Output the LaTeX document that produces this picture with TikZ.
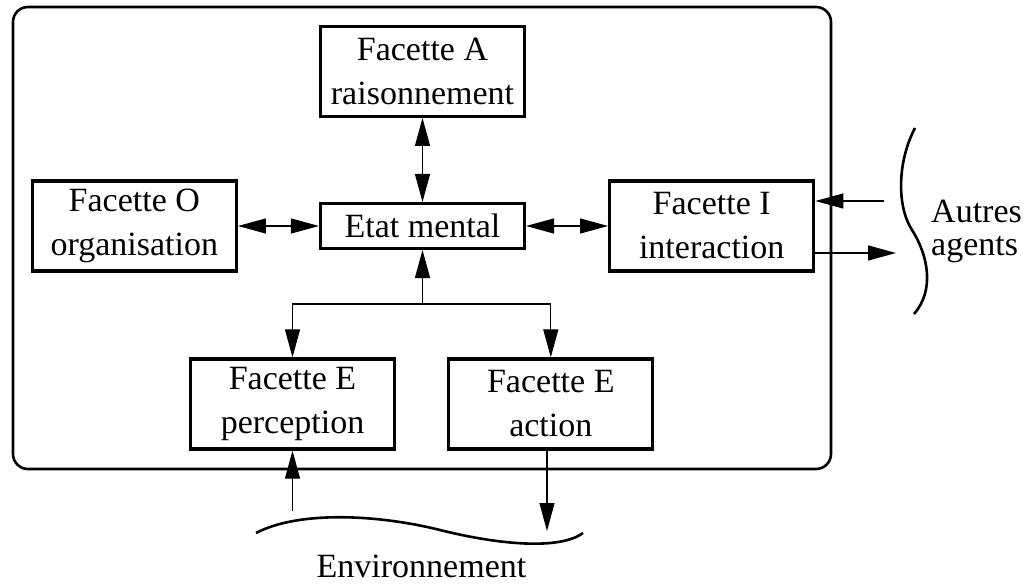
\documentclass[tikz,border=0pt]{standalone}
\usepackage{fontspec}
\setmainfont{Liberation Serif}
\usetikzlibrary{arrows.meta,positioning}

\begin{document}
\begin{tikzpicture}[
  x=1pt,y=-1pt,
  every node/.style={font=\fontsize{34pt}{44pt}\selectfont,align=center},
  facet/.style={draw,line width=3.3pt,minimum width=204pt,minimum height=90pt,inner sep=0pt},
  mind/.style={draw,line width=2.6pt,minimum width=204.5pt,minimum height=45.5pt,inner sep=0pt},
  arr/.style={-{Triangle[length=28pt,width=15pt]},line width=1.2pt},
  dbl/.style={{Triangle[length=28pt,width=15pt]}-{Triangle[length=28pt,width=15pt]},line width=1.2pt},
  wave/.style={line width=2.6pt},
  frame/.style={line width=2.6pt,rounded corners=15pt}
]
\useasboundingbox (0,0) rectangle (1031,585);
\draw[frame] (13,7) rectangle (831,469);
\node[mind] (em) at (422.5,226) {Etat mental};
\node[facet,above=84pt of em] (A) {Facette A\\raisonnement};
\node[facet,left=81pt of em] (O) {Facette O\\organisation};
\node[facet,right=82pt of em] (I) {Facette I\\interaction};
\node[facet] (Ep) at (292.5,404) {Facette E\\perception};
\node[facet,right=51pt of Ep] (Ea) {Facette E\\action};
\node[anchor=west,align=left,font=\fontsize{34pt}{33pt}\selectfont,inner sep=0pt] (ag) at (931,231) {Autres\\agents};
\node[anchor=base,inner sep=0pt] (env) at (421.5,577) {Environnement};
% liens internes
\draw[dbl] (A) -- (em);
\draw[dbl] (O) -- (em);
\draw[dbl] (em) -- (I);
\coordinate[below=54pt of em] (fork);
\draw[arr] (fork) -- (em);
\draw[arr] (fork) -| (Ep);
\draw[arr] (fork) -| (Ea);
% environnement et autres agents
\coordinate[below=60pt of Ep] (envin);
\draw[arr] (envin) -- (Ep);
\coordinate (envout) at (547,531);
\draw[arr] (Ea.south -| envout) -- (envout);
\coordinate (agin) at (884,201);
\draw[arr] (agin) -- (agin -| I.east);
\coordinate (agout) at (896,253);
\draw[arr] (agout -| I.east) -- (agout);
\draw[wave] (915,128) .. controls (898,160) and (896,205) .. (912,230)
  .. controls (928,255) and (935,290) .. (914,314);
\draw[wave] (256,533) .. controls (300,510) and (380,515) .. (440,530)
  .. controls (500,545) and (560,550) .. (583,533);
\end{tikzpicture}
\end{document}
